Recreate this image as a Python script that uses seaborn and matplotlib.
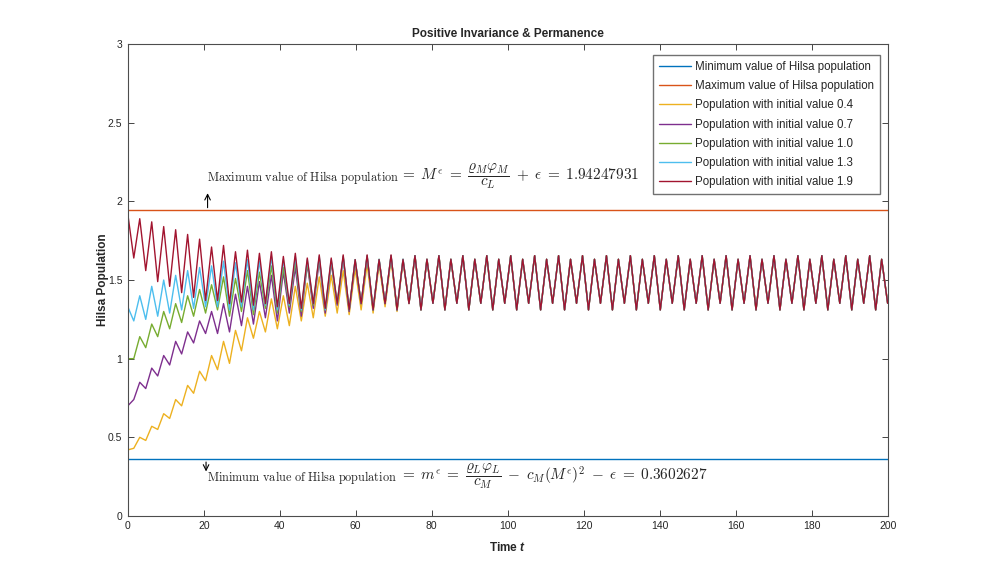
import numpy as np
import pandas as pd
import matplotlib
matplotlib.use("Agg")
import matplotlib.pyplot as plt
import seaborn as sns

# time grid: alternating peaks (even index) and troughs (odd index)
time = np.linspace(0, 200, 128)

min_value = 0.3602627
max_value = 1.94247931

# oscillation after all trajectories have merged (index 48..127)
steady_tail = [
    1.655, 1.31, 1.632, 1.352, 1.655, 1.31, 1.632, 1.352,
    1.655, 1.31, 1.632, 1.352, 1.655, 1.31, 1.632, 1.352,
    1.655, 1.31, 1.632, 1.352, 1.655, 1.31, 1.632, 1.352,
    1.655, 1.31, 1.632, 1.352, 1.655, 1.31, 1.632, 1.352,
    1.655, 1.31, 1.632, 1.352, 1.655, 1.31, 1.632, 1.352,
    1.655, 1.31, 1.632, 1.352, 1.655, 1.31, 1.632, 1.352,
    1.655, 1.31, 1.632, 1.352, 1.655, 1.31, 1.632, 1.352,
    1.655, 1.31, 1.632, 1.352, 1.655, 1.31, 1.632, 1.352,
    1.655, 1.31, 1.632, 1.352, 1.655, 1.31, 1.632, 1.352,
    1.655, 1.31, 1.632, 1.352, 1.655, 1.31, 1.632, 1.352,
]

# transient part (index 0..47) for each initial value
pop_04 = [
    0.42, 0.43, 0.50, 0.48, 0.57, 0.55, 0.65, 0.62, 0.74, 0.70, 0.83, 0.78,
    0.92, 0.86, 1.02, 0.93, 1.11, 0.97, 1.18, 1.05, 1.26, 1.13, 1.30, 1.17,
    1.38, 1.19, 1.40, 1.21, 1.46, 1.24, 1.48, 1.26, 1.52, 1.27, 1.53, 1.29,
    1.56, 1.28, 1.57, 1.31, 1.60, 1.29, 1.60, 1.33, 1.63, 1.30, 1.62, 1.35,
]
pop_07 = [
    0.70, 0.74, 0.85, 0.81, 0.94, 0.89, 1.02, 0.96, 1.11, 1.03, 1.17, 1.10,
    1.24, 1.16, 1.30, 1.16, 1.35, 1.17, 1.41, 1.21, 1.46, 1.22, 1.49, 1.26,
    1.53, 1.24, 1.55, 1.29, 1.58, 1.27, 1.60, 1.32, 1.62, 1.29, 1.61, 1.34,
    1.64, 1.30, 1.62, 1.35, 1.65, 1.31, 1.63, 1.35, 1.655, 1.31, 1.632, 1.352,
]
pop_10 = [
    1.00, 1.00, 1.14, 1.07, 1.22, 1.14, 1.30, 1.19, 1.35, 1.23, 1.40, 1.27,
    1.44, 1.29, 1.47, 1.31, 1.52, 1.27, 1.51, 1.30, 1.56, 1.28, 1.55, 1.32,
    1.59, 1.29, 1.58, 1.33, 1.62, 1.30, 1.61, 1.34, 1.64, 1.31, 1.62, 1.35,
    1.65, 1.31, 1.63, 1.35, 1.655, 1.31, 1.632, 1.352, 1.655, 1.31, 1.632, 1.352,
]
pop_13 = [
    1.33, 1.24, 1.40, 1.25, 1.46, 1.27, 1.50, 1.29, 1.53, 1.31, 1.56, 1.32,
    1.58, 1.33, 1.59, 1.33, 1.62, 1.31, 1.61, 1.33, 1.63, 1.31, 1.62, 1.34,
    1.65, 1.31, 1.63, 1.34, 1.65, 1.31, 1.63, 1.35, 1.65, 1.31, 1.63, 1.35,
    1.65, 1.31, 1.63, 1.35, 1.655, 1.31, 1.632, 1.352, 1.655, 1.31, 1.632, 1.352,
]
pop_19 = [
    1.92, 1.64, 1.89, 1.56, 1.87, 1.49, 1.84, 1.46, 1.82, 1.42, 1.79, 1.39,
    1.76, 1.37, 1.71, 1.37, 1.72, 1.35, 1.68, 1.36, 1.69, 1.34, 1.67, 1.35,
    1.68, 1.33, 1.65, 1.35, 1.67, 1.32, 1.64, 1.35, 1.66, 1.32, 1.64, 1.35,
    1.66, 1.31, 1.63, 1.35, 1.66, 1.31, 1.63, 1.35, 1.66, 1.31, 1.63, 1.35,
]

labels = [
    "Minimum value of Hilsa population",
    "Maximum value of Hilsa population",
    "Population with initial value 0.4",
    "Population with initial value 0.7",
    "Population with initial value 1.0",
    "Population with initial value 1.3",
    "Population with initial value 1.9",
]
colors = ["#0072BD", "#D95319", "#EDB120", "#7E2F8E", "#77AC30", "#4DBEEE", "#A2142F"]

frames = [
    pd.DataFrame({"t": [0, 200], "y": [min_value, min_value], "series": labels[0]}),
    pd.DataFrame({"t": [0, 200], "y": [max_value, max_value], "series": labels[1]}),
]
for lab, head in zip(labels[2:], [pop_04, pop_07, pop_10, pop_13, pop_19]):
    frames.append(pd.DataFrame({"t": time, "y": head + steady_tail, "series": lab}))
df = pd.concat(frames, ignore_index=True)

sns.set_style("white")
plt.rcParams['font.family'] = ['Liberation Sans', 'DejaVu Sans']
plt.rcParams['mathtext.fontset'] = 'cm'
plt.rcParams['mathtext.it'] = 'Liberation Sans:italic:bold'

fig = plt.figure(figsize=(9.83, 5.81), dpi=100)
ax = fig.add_axes([0.13, 0.112, 0.773, 0.812])

sns.lineplot(data=df, x="t", y="y", hue="series", hue_order=labels,
             palette=colors, estimator=None, sort=False, linewidth=1.0, ax=ax)

ax.set_xlim(0, 200)
ax.set_ylim(0, 3)
ax.set_xticks(np.arange(0, 201, 20))
ax.set_yticks([0, 0.5, 1, 1.5, 2, 2.5, 3])
ax.set_yticklabels(["0", "0.5", "1", "1.5", "2", "2.5", "3"])
ax.tick_params(direction='in', length=4, width=0.6, colors='0.15', labelsize=7.5,
               bottom=True, left=True, top=True, right=True, pad=4)
for s in ax.spines.values():
    s.set_color('0.3')
    s.set_linewidth(0.8)

ax.set_title("Positive Invariance & Permanence", fontsize=8.5, fontweight='bold', pad=5)
xl = ax.set_xlabel("Time $t$", fontsize=8.5, fontweight='bold', labelpad=7)
xl.set_math_fontfamily('custom')
ax.set_ylabel("Hilsa Population", fontsize=8.5, fontweight='bold', labelpad=-1)

# bound annotations: words, then the formula
ax.text(20.8, 2.13, r"$\mathrm{Maximum\ value\ of\ Hilsa\ population}$",
        fontsize=8.8, va='baseline', ha='left')
ax.text(70.6, 2.13,
        r"$\;=\;M^{\epsilon}\;=\;\dfrac{\varrho_M\varphi_M}{c_L}\;+\;\epsilon\;=\;1.94247931$",
        fontsize=11, va='baseline', ha='left')
ax.text(20.8, 0.222, r"$\mathrm{Minimum\ value\ of\ Hilsa\ population}$",
        fontsize=8.8, va='baseline', ha='left')
ax.text(70.6, 0.222,
        r"$\;=\;m^{\epsilon}\;=\;\dfrac{\varrho_L\varphi_L}{c_M}\;-\;c_M(M^{\epsilon})^2\;-\;\epsilon\;=\;0.3602627$",
        fontsize=11, va='baseline', ha='left')
ax.annotate("", xy=(21, 2.07), xytext=(21, max_value),
            arrowprops=dict(arrowstyle='->', color='black', lw=0.8))
ax.annotate("", xy=(20.6, 0.265), xytext=(20.6, min_value),
            arrowprops=dict(arrowstyle='->', color='black', lw=0.8))

handles, labs = ax.get_legend_handles_labels()
ax.legend(handles, labs, loc='upper right', bbox_to_anchor=(0.9895, 0.9767),
          borderaxespad=0, fontsize=8.3, frameon=True, fancybox=False,
          edgecolor='0.3', handlelength=2.8, handletextpad=0.3,
          labelspacing=0.63, borderpad=0.5)

fig.savefig("out.png", dpi=100, facecolor='white')
